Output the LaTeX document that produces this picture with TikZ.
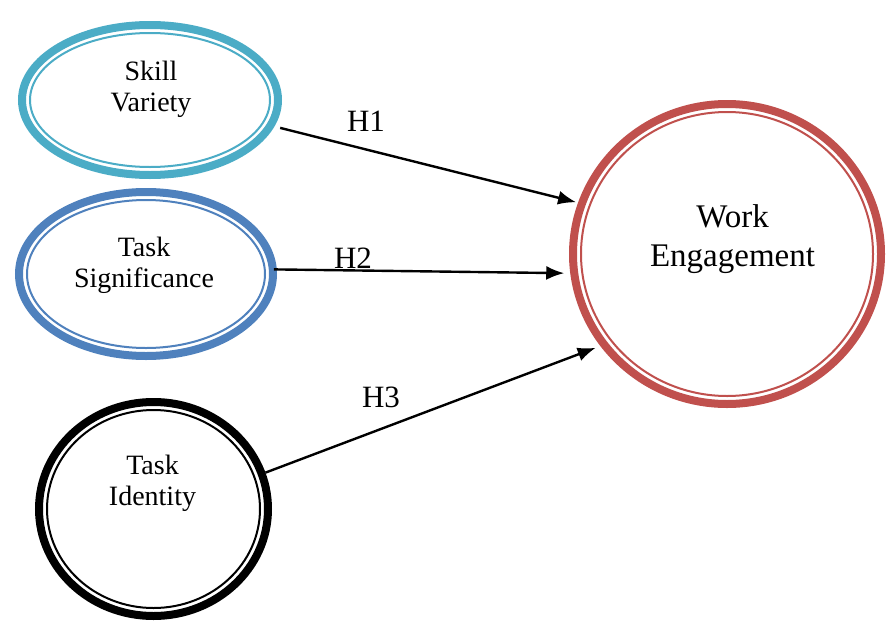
\documentclass[tikz,border=0pt]{standalone}
\usepackage{fontspec}
\setmainfont{Liberation Serif}
\usetikzlibrary{shapes.geometric,arrows.meta}
\definecolor{tealc}{HTML}{4BACC6}
\definecolor{bluec}{HTML}{4F81BD}
\definecolor{redc}{HTML}{C0504D}
\begin{document}
\begin{tikzpicture}[x=1pt,y=-1pt,
  construct/.style={ellipse,draw=#1,line width=8pt,inner sep=0pt,fill=white},
  innerline/.style={draw=#1,line width=2pt},
  lbl/.style={font=\fontsize{28}{31}\selectfont,align=center,anchor=base},
  hyp/.style={font=\fontsize{31}{34}\selectfont,anchor=base},
  arr/.style={line width=2.4pt,-{Latex[length=18pt,width=14pt]}}]
\useasboundingbox (0,0) rectangle (886,624);
% constructs
\node[construct=tealc,minimum width=256pt,minimum height=150pt] (sv) at (150,100) {};
\draw[innerline=tealc] (sv.center) ellipse [x radius=120pt,y radius=67pt];
\node[construct=bluec,minimum width=254pt,minimum height=164pt] (ts) at (146,274) {};
\draw[innerline=bluec] (ts.center) ellipse [x radius=119pt,y radius=74pt];
\node[construct=black,minimum width=229pt,minimum height=214pt] (ti) at (153.5,509) {};
\draw[innerline=black] (ti.center) ellipse [x radius=106.5pt,y radius=99pt];
\node[construct=redc,minimum width=308pt,minimum height=300pt] (we) at (727,254) {};
\draw[innerline=redc] (we.center) ellipse [x radius=146pt,y radius=142pt];
% labels
\node[lbl] (svt) at (151,111) {Skill\\Variety};
\node[lbl] (tst) at (144,287) {Task\\Significance};
\node[lbl] (tit) at (152.5,505) {Task\\Identity};
\node[lbl,font=\fontsize{33}{39}\selectfont] (wet) at (732.5,266) {Work\\Engagement};
% paths
\draw[arr,shorten <=6pt,shorten >=2pt] (sv.-12) -- (we.161.6);
\draw[arr,shorten <=-3pt,shorten >=6pt] (ts.2) -- (we.187);
\draw[arr,shorten >=5pt] (ti.18) -- (we.216);
\node[hyp] (h1) at (366,131) {H1};
\node[hyp] (h2) at (353,268) {H2};
\node[hyp] (h3) at (381,407) {H3};
\end{tikzpicture}
\end{document}
